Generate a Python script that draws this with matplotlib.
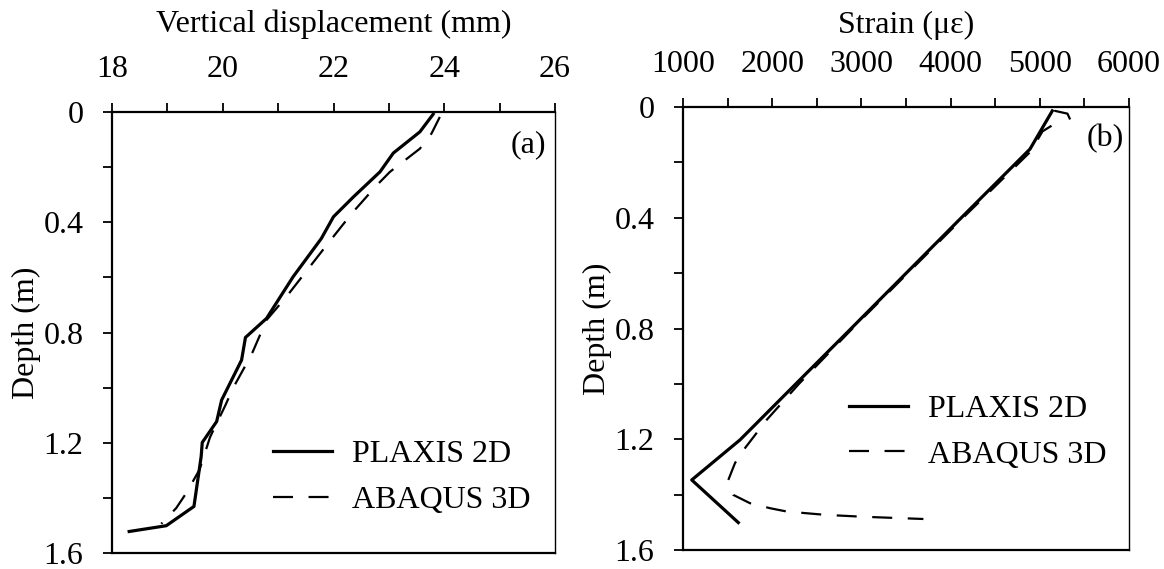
import matplotlib
matplotlib.use("Agg")
import matplotlib.pyplot as plt
from matplotlib.ticker import MultipleLocator

plt.rcParams["font.family"] = ["Liberation Serif", "DejaVu Serif"]
plt.rcParams["font.size"] = 23

# (a) vertical displacement (mm) vs depth (m)
plaxis_disp = [23.80, 23.56, 23.08, 22.84, 22.36, 22.00, 21.78, 21.27, 20.79, 20.41,
               20.34, 19.98, 19.89, 19.63, 19.61, 19.48, 18.98, 18.31]
plaxis_disp_depth = [0.008, 0.072, 0.149, 0.217, 0.308, 0.380, 0.459, 0.598, 0.749, 0.818,
                     0.900, 1.045, 1.123, 1.199, 1.250, 1.431, 1.501, 1.522]
abaqus_disp = [23.92, 23.77, 23.56, 23.02, 22.78, 22.33, 21.90, 21.15, 20.79, 20.52,
               20.19, 20.05, 19.77, 19.58, 19.34, 19.16, 18.89]
abaqus_disp_depth = [0.018, 0.078, 0.133, 0.217, 0.266, 0.368, 0.477, 0.670, 0.755, 0.880,
                     1.000, 1.063, 1.180, 1.298, 1.383, 1.437, 1.494]

# (b) strain (micro-strain) vs depth (m)
plaxis_strain = [5140, 4890, 4120, 2885, 2265, 1640, 1098, 1620]
plaxis_strain_depth = [0.014, 0.152, 0.400, 0.800, 1.000, 1.202, 1.347, 1.501]
abaqus_strain = [5340, 5310, 5170, 5160, 5030, 4900, 4140, 2900, 2300, 1938, 1695, 1583,
                 1508, 1564, 1751, 1975, 2163, 2592, 3022, 3695]
abaqus_strain_depth = [0.045, 0.024, 0.014, 0.062, 0.088, 0.160, 0.400, 0.800, 1.000, 1.130,
                       1.232, 1.286, 1.347, 1.401, 1.431, 1.449, 1.461, 1.473, 1.480, 1.488]

W, H = 1164, 569
fig = plt.figure(figsize=(W / 100, H / 100), dpi=100)
ax1 = fig.add_axes([112 / W, (H - 553) / H, 443 / W, 441 / H])
ax2 = fig.add_axes([683 / W, (H - 550) / H, 446 / W, 443 / H])


def style(ax):
    ax.set_ylim(1.6, 0)
    ax.xaxis.set_ticks_position("top")
    ax.xaxis.set_label_position("top")
    ax.yaxis.set_major_locator(MultipleLocator(0.4))
    ax.yaxis.set_minor_locator(MultipleLocator(0.2))
    ax.yaxis.set_major_formatter(lambda v, p: "0" if v == 0 else f"{v:.1f}")
    ax.tick_params(which="both", direction="out", length=6.5, width=1.3)
    ax.tick_params(axis="x", pad=14)
    ax.tick_params(axis="y", pad=14)
    for side in ["top", "left", "bottom"]:
        ax.spines[side].set_linewidth(1.6)
    ax.spines["right"].set_linewidth(1.0)
    ax.set_ylabel("Depth (m)", labelpad=2)


ax1.plot(plaxis_disp, plaxis_disp_depth, "k-", lw=2.3, label="PLAXIS 2D")
ax1.plot(abaqus_disp, abaqus_disp_depth, "k--", lw=1.6, dashes=(9, 7), label="ABAQUS 3D")
ax1.set_xlim(18, 26)
ax1.xaxis.set_major_locator(MultipleLocator(2))
ax1.xaxis.set_minor_locator(MultipleLocator(1))
style(ax1)
ax1.set_xlabel("Vertical displacement (mm)", labelpad=16)
ax1.text(0.94, 0.925, "(a)", transform=ax1.transAxes, ha="center", va="center")
ax1.legend(loc="upper left", bbox_to_anchor=(0.363, 0.256), frameon=False, borderpad=0,
           borderaxespad=0, handlelength=1.85, handletextpad=0.62, labelspacing=0.5)

ax2.plot(plaxis_strain, plaxis_strain_depth, "k-", lw=2.3, label="PLAXIS 2D")
ax2.plot(abaqus_strain, abaqus_strain_depth, "k--", lw=1.6, dashes=(9, 7), label="ABAQUS 3D")
ax2.set_xlim(1000, 6000)
ax2.xaxis.set_major_locator(MultipleLocator(1000))
ax2.xaxis.set_minor_locator(MultipleLocator(500))
style(ax2)
ax2.set_xlabel("Strain (\u03bc\u03b5)", labelpad=12)
ax2.text(0.947, 0.928, "(b)", transform=ax2.transAxes, ha="center", va="center")
ax2.legend(loc="upper left", bbox_to_anchor=(0.372, 0.35), frameon=False, borderpad=0,
           borderaxespad=0, handlelength=1.85, handletextpad=0.62, labelspacing=0.5)

fig.savefig("out.png", dpi=100)
